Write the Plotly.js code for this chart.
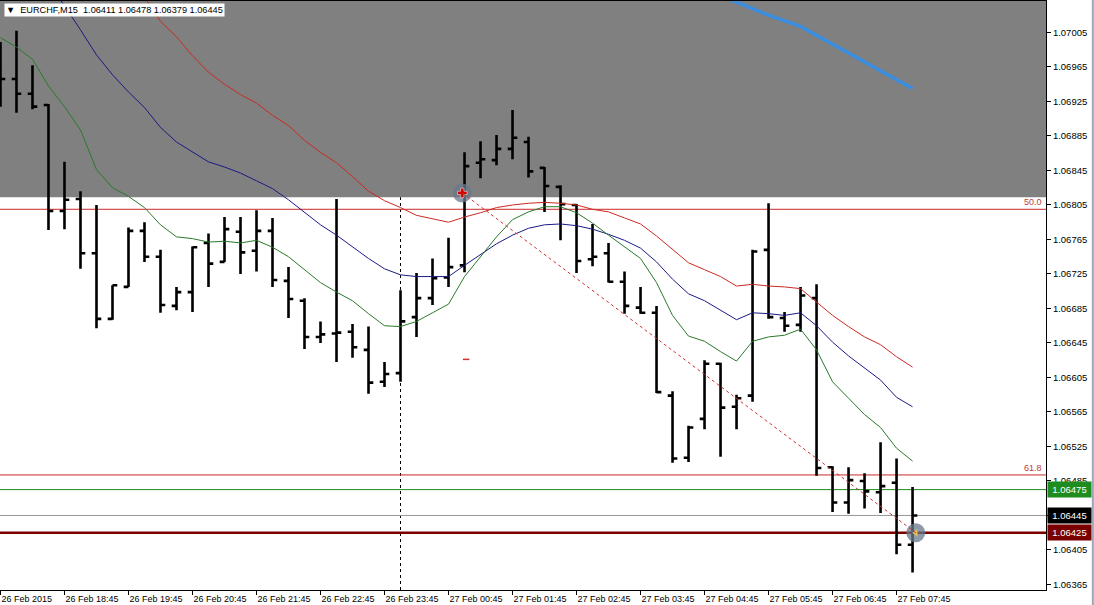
<!DOCTYPE html>
<html><head><meta charset="utf-8">
<script src="https://cdn.plot.ly/plotly-3.0.1.min.js"></script>
<style>html,body{margin:0;padding:0;background:#fff;}#chart{width:1094px;height:605px;}</style>
</head><body><div id="chart"></div>
<script>
// EURCHF M15 bars, 26 Feb 2015 17:45 -> 27 Feb 2015 08:00
const open = [1.06979,1.06951,1.06934,1.06921,1.06798,1.06812,1.06749,1.06673,1.06710,1.06775,
1.06745,1.06688,1.06704,1.06761,1.06739,1.06774,1.06752,1.06775,1.06717,1.06694,
1.06652,1.06656,1.06658,1.06637,1.06600,1.06610,1.06675,1.06697,1.06721,1.06735,
1.06854,1.06857,1.06870,1.06878,1.06848,1.06826,1.06805,1.06742,1.06749,1.06716,
1.06686,1.06680,1.06584,1.06512,1.06557,1.06621,1.06571,1.06584,1.06753,1.06674,
1.06666,1.06697,1.06501,1.06460,1.06485,1.06472,1.06483,1.06411];
const high = [1.06994,1.07007,1.06967,1.06922,1.06855,1.06821,1.06805,1.06712,1.06779,1.06785,
1.06753,1.06710,1.06757,1.06772,1.06791,1.06791,1.06799,1.06790,1.06733,1.06697,
1.06670,1.06812,1.06667,1.06664,1.06623,1.06706,1.06726,1.06743,1.06767,1.06866,
1.06879,1.06886,1.06915,1.06884,1.06849,1.06828,1.06806,1.06783,1.06761,1.06728,
1.06710,1.06688,1.06589,1.06549,1.06625,1.06622,1.06585,1.06753,1.06807,1.06681,
1.06710,1.06713,1.06502,1.06501,1.06494,1.06530,1.06511,1.06478];
const low = [1.06919,1.06912,1.06916,1.06776,1.06777,1.06731,1.06662,1.06672,1.06710,1.06739,
1.06680,1.06683,1.06681,1.06710,1.06739,1.06725,1.06728,1.06710,1.06674,1.06638,
1.06645,1.06623,1.06628,1.06586,1.06594,1.06600,1.06652,1.06689,1.06710,1.06727,
1.06836,1.06851,1.06858,1.06837,1.06797,1.06764,1.06726,1.06734,1.06715,1.06679,
1.06679,1.06587,1.06506,1.06507,1.06545,1.06513,1.06545,1.06577,1.06673,1.06658,
1.06658,1.06491,1.06449,1.06447,1.06453,1.06448,1.06400,1.06379];
const close = [1.06951,1.06934,1.06919,1.06798,1.06811,1.06749,1.06673,1.06712,1.06775,1.06745,
1.06689,1.06704,1.06756,1.06737,1.06777,1.06750,1.06775,1.06718,1.06696,1.06652,
1.06655,1.06657,1.06640,1.06599,1.06609,1.06670,1.06697,1.06720,1.06733,1.06850,
1.06858,1.06870,1.06883,1.06844,1.06827,1.06806,1.06740,1.06745,1.06716,1.06688,
1.06680,1.06588,1.06511,1.06547,1.06621,1.06570,1.06581,1.06751,1.06675,1.06665,
1.06700,1.06500,1.06460,1.06486,1.06473,1.06479,1.06411,1.06445];

// moving averages (null = off screen / not drawn)
const maGreen = [1.06999,1.06988,1.06974,1.06943,1.06919,1.06892,1.06846,1.06825,1.06815,1.06802,
1.06782,1.06768,1.06766,1.06762,1.06763,1.06761,1.06764,1.06756,1.06745,1.06730,
1.06715,1.06704,1.06694,1.06679,1.06665,1.06664,1.06670,1.06680,1.06690,1.06722,
1.06745,1.06768,1.06788,1.06797,1.06803,1.06803,1.06796,1.06784,1.06770,1.06756,
1.06743,1.06715,1.06677,1.06653,1.06647,1.06635,1.06624,1.06647,1.06652,1.06654,
1.06661,1.06637,1.06600,1.06581,1.06562,1.06547,1.06523,1.06508];
const maBlue = [null,null,null,1.07062,1.07036,1.07008,1.06979,1.06956,1.06936,1.06918,
1.06895,1.06878,1.06866,1.06855,1.06849,1.06842,1.06833,1.06824,1.06811,1.06796,
1.06782,1.06770,1.06756,1.06743,1.06731,1.06724,1.06722,1.06722,1.06722,1.06735,
1.06747,1.06760,1.06770,1.06778,1.06782,1.06783,1.06781,1.06777,1.06771,1.06764,
1.06755,1.06739,1.06719,1.06702,1.06694,1.06683,1.06672,1.06680,1.06679,1.06677,
1.06680,1.06665,1.06646,1.06630,1.06616,1.06602,1.06582,1.06571];
const maRed = [null,null,null,null,null,null,null,null,1.07072,1.07046,
1.07018,1.07000,1.06978,1.06959,1.06945,1.06933,1.06923,1.06909,1.06897,1.06880,
1.06866,1.06854,1.06838,1.06821,1.06810,1.06802,1.06793,1.06789,1.06785,1.06791,
1.06796,1.06802,1.06805,1.06807,1.06808,1.06807,1.06805,1.06800,1.06797,1.06790,
1.06783,1.06769,1.06753,1.06738,1.06730,1.06722,1.06711,1.06713,1.06711,1.06710,
1.06708,1.06692,1.06677,1.06664,1.06652,1.06643,1.06629,1.06617];
// thick light-blue line (upper right)
const slowIdx = [45,48,50,57];
const slowVal = [1.07048,1.07025,1.07012,1.06940];

// drawn objects
const fibFrom = {i:28.86, p:1.06819};
const fibTo = {i:57.2, p:1.06425};
const fib50 = 1.06800, fib618 = 1.06492;
const zoneBottom = 1.06814;
const greenLevel = 1.06475, bidLevel = 1.06445, redLevel = 1.06425;
const daySepIdx = 25;
const dashIdx = [28.9,29.3], dashVal = [1.06626,1.06626];

const tickIdx = [0,4,8,12,16,20,24,28,32,36,40,44,48,52,56];
const tickText = ['26 Feb 2015','26 Feb 18:45','26 Feb 19:45','26 Feb 20:45','26 Feb 21:45','26 Feb 22:45','26 Feb 23:45',
'27 Feb 00:45','27 Feb 01:45','27 Feb 02:45','27 Feb 03:45','27 Feb 04:45','27 Feb 05:45','27 Feb 06:45','27 Feb 07:45'];
const yTicks = [1.07005,1.06965,1.06925,1.06885,1.06845,1.06805,1.06765,1.06725,1.06685,1.06645,1.06605,1.06565,1.06525,1.06485,1.06445,1.06405,1.06365];

const idx = open.map((_, i) => i);
const FONT = 'Liberation Sans, Arial, sans-serif';

const traces = [
 {type:'scatter', mode:'lines', x:idx, y:maRed, line:{color:'#cc2a22', width:1}, hoverinfo:'skip', connectgaps:false},
 {type:'scatter', mode:'lines', x:idx, y:maBlue, line:{color:'#1a1a86', width:1}, hoverinfo:'skip'},
 {type:'scatter', mode:'lines', x:idx, y:maGreen, line:{color:'#2a7a2a', width:1}, hoverinfo:'skip'},
 {type:'scatter', mode:'lines', x:slowIdx, y:slowVal, line:{color:'#3a8ee0', width:3.5}, hoverinfo:'skip'},
 {type:'scatter', mode:'lines', x:dashIdx, y:dashVal, line:{color:'#d03030', width:1.5}, hoverinfo:'skip'},
 {type:'ohlc', x:idx, open:open, high:high, low:low, close:close,
  increasing:{line:{color:'#000', width:2.6}}, decreasing:{line:{color:'#000', width:2.6}},
  tickwidth:0.3, hoverinfo:'skip'},
 {type:'scatter', mode:'markers', x:[fibFrom.i, fibTo.i], y:[fibFrom.p, fibTo.p],
  marker:{size:19, color:'rgba(105,120,140,0.75)'}, hoverinfo:'skip'},
 {type:'scatter', mode:'markers', x:[fibFrom.i], y:[fibFrom.p], marker:{size:8, symbol:'cross', color:'#d00000', line:{width:0.5,color:'#fff'}}, hoverinfo:'skip'},
 {type:'scatter', mode:'markers', x:[fibTo.i], y:[fibTo.p], marker:{size:7, symbol:'triangle-left', color:'#e0c050'}, hoverinfo:'skip'}
];

const hline = (p, color, width, dash) => ({type:'line', xref:'paper', x0:0, x1:1, yref:'y', y0:p, y1:p, line:{color:color, width:width, dash:dash||'solid'}, layer:'below'});

const shapes = [
 {type:'line', xref:'x', x0:daySepIdx, x1:daySepIdx, yref:'paper', y0:0, y1:1, line:{color:'#000', width:1, dash:'3px,3px'}, layer:'below'},
 {type:'rect', xref:'paper', x0:0, x1:1, yref:'y', y0:zoneBottom, y1:1.0705, fillcolor:'#808080', line:{width:0}, layer:'below'},
 hline(fib50, '#cc2a2a', 1),
 hline(fib618, '#cc2a2a', 1),
 hline(greenLevel, '#1f8a1f', 1),
 hline(bidLevel, '#999999', 1),
 hline(redLevel, '#7a0000', 2.5),
 {type:'line', xref:'x', x0:fibFrom.i, x1:fibTo.i, yref:'y', y0:fibFrom.p, y1:fibTo.p, line:{color:'#cc3030', width:1, dash:'3px,3px'}},
 {type:'line', xref:'paper', x0:1.0448, x1:1.0448, yref:'paper', y0:-0.03, y1:1.003, line:{color:'#9aa6b8', width:2}}
];

const header = '\u25BC\u00a0\u00a0EURCHF,M15\u00a0\u00a0' + [open[57], high[57], low[57], close[57]].map(v => v.toFixed(5)).join(' ');

const annotations = [
 {xref:'paper', x:0.004, xanchor:'left', yref:'paper', y:1, yanchor:'top', yshift:-2, text:header, showarrow:false,
  bgcolor:'#fff', font:{family:FONT, size:9.2, color:'#000'}, borderpad:1},
 {xref:'paper', x:1, xanchor:'right', xshift:-2, yref:'y', y:fib50, yanchor:'bottom', text:'50.0', showarrow:false, font:{family:FONT, size:9, color:'#c03a3a'}},
 {xref:'paper', x:1, xanchor:'right', xshift:-2, yref:'y', y:fib618, yanchor:'bottom', text:'61.8', showarrow:false, font:{family:FONT, size:9, color:'#c03a3a'}},
 {xref:'paper', x:1, xanchor:'left', xshift:1, yref:'y', y:greenLevel, text:greenLevel.toFixed(5), showarrow:false, bgcolor:'#1e8c1e', width:41, height:13, borderpad:1, font:{family:FONT, size:9.5, color:'#fff'}},
 {xref:'paper', x:1, xanchor:'left', xshift:1, yref:'y', y:bidLevel, text:bidLevel.toFixed(5), showarrow:false, bgcolor:'#000', width:41, height:13, borderpad:1, font:{family:FONT, size:9.5, color:'#fff'}},
 {xref:'paper', x:1, xanchor:'left', xshift:1, yref:'y', y:redLevel, text:redLevel.toFixed(5), showarrow:false, bgcolor:'#7a0000', width:41, height:13, borderpad:1, font:{family:FONT, size:9.5, color:'#fff'}}
];

const layout = {
 width:1094, height:605,
 margin:{l:0, r:48, t:1, b:15, pad:0},
 paper_bgcolor:'#fff', plot_bgcolor:'#fff',
 showlegend:false, hovermode:false,
 font:{family:FONT, size:9, color:'#000'},
 xaxis:{range:[-0.03, 65.34], showgrid:false, zeroline:false, showline:true, mirror:true, linecolor:'#000', linewidth:1,
  ticks:'outside', ticklen:4, tickcolor:'#000', tickvals:tickIdx, ticktext:tickText, ticklabelposition:'outside right',
  tickfont:{family:FONT, size:9, color:'#000'}, rangeslider:{visible:false}, fixedrange:true},
 yaxis:{side:'right', range:[1.063586, 1.070415], showgrid:false, zeroline:false, showline:true, mirror:true, linecolor:'#000', linewidth:1,
  ticks:'outside', ticklen:4, tickcolor:'#000', tickvals:yTicks, ticktext:yTicks.map(v => v.toFixed(5)),
  tickfont:{family:FONT, size:9.5, color:'#000'}, fixedrange:true},
 shapes:shapes, annotations:annotations
};

Plotly.newPlot('chart', traces, layout, {staticPlot:true, displayModeBar:false});
</script>
</body></html>
